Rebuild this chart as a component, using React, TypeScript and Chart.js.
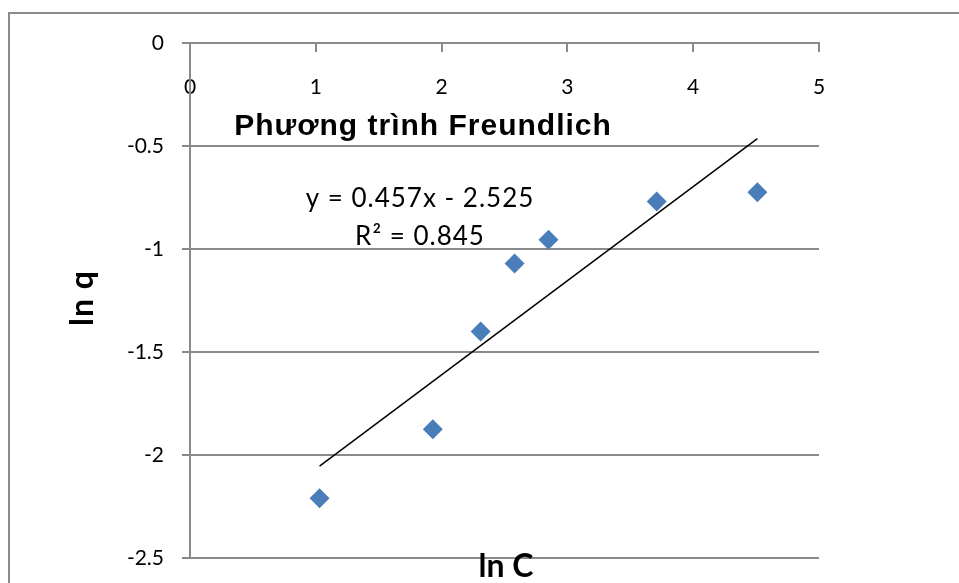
import { useEffect, useRef } from "react";
import { Chart, registerables } from "chart.js";

Chart.register(...registerables);

// ln C (x) and ln q (y) for each adsorption point
const lnC = [1.03, 1.93, 2.31, 2.58, 2.85, 3.71, 4.51];
const lnQ = [-2.21, -1.875, -1.4, -1.07, -0.955, -0.77, -0.725];

// linear fit reported on the chart
const SLOPE = 0.457;
const INTERCEPT = -2.525;
const R2 = 0.845;

const X_RANGE = [0, 5];
const Y_RANGE = [-2.5, 0];
const X_STEP = 1;
const Y_STEP = 0.5;

const TITLE = "Phương trình Freundlich";
const X_TITLE = "ln C";
const Y_TITLE = "ln q";

const GRID = "#8a8a8a";
const MARKER = "#4a7ebb";
const TICK_FONT = { family: "Lato", size: 21 };

const fitLine = () => {
  const x0 = Math.min(...lnC);
  const x1 = Math.max(...lnC);
  return [
    { x: x0, y: SLOPE * x0 + INTERCEPT },
    { x: x1, y: SLOPE * x1 + INTERCEPT },
  ];
};

const annotations = {
  id: "annotations",
  beforeDraw(chart: any) {
    const { ctx } = chart;
    ctx.save();
    ctx.strokeStyle = "#8c8c8c";
    ctx.lineWidth = 2;
    ctx.beginPath();
    ctx.moveTo(9, chart.height);
    ctx.lineTo(9, 13);
    ctx.lineTo(chart.width, 13);
    ctx.stroke();
    ctx.restore();
  },
  afterDraw(chart: any) {
    const { ctx } = chart;
    ctx.save();
    ctx.fillStyle = "#000";
    ctx.textAlign = "center";
    ctx.textBaseline = "alphabetic";

    // chart title
    ctx.font = "bold 30px 'Liberation Sans'";
    (ctx as any).letterSpacing = "1px";
    ctx.fillText(TITLE, 423, 135);

    // trendline equation
    ctx.font = "26px Lato";
    (ctx as any).letterSpacing = "1px";
    const sign = INTERCEPT < 0 ? "-" : "+";
    ctx.fillText(`y = ${SLOPE}x ${sign} ${Math.abs(INTERCEPT)}`, 420, 207);
    ctx.fillText(`R² = ${R2}`, 420, 245);

    // axis titles
    ctx.font = "bold 32px Lato";
    (ctx as any).letterSpacing = "0px";
    ctx.fillText(X_TITLE, 506, 577);
    (ctx as any).letterSpacing = "1px";
    ctx.translate(93, 298);
    ctx.rotate(-Math.PI / 2);
    ctx.fillText(Y_TITLE, 0, 0);
    ctx.restore();
  },
};

export default function App() {
  const ref = useRef<HTMLCanvasElement>(null);

  useEffect(() => {
    if (!ref.current) return;
    const chart = new Chart(ref.current, {
      type: "scatter",
      data: {
        datasets: [
          {
            label: "Linear (ln q)",
            data: fitLine(),
            showLine: true,
            borderColor: "#000",
            borderWidth: 1.5,
            pointRadius: 0,
            fill: false,
          },
          {
            label: "ln q",
            data: lnC.map((x, i) => ({ x, y: lnQ[i] })),
            pointStyle: "rectRot",
            pointRadius: 10,
            pointBorderWidth: 0,
            backgroundColor: MARKER,
            borderColor: MARKER,
          },
        ],
      },
      options: {
        animation: false,
        responsive: false,
        devicePixelRatio: 1,
        layout: { padding: { top: 43, right: 140, bottom: 25, left: 0 } },
        plugins: {
          legend: { display: false },
          tooltip: { enabled: false },
          title: { display: false },
        },
        scales: {
          x: {
            type: "linear",
            position: { y: 0 },
            min: X_RANGE[0],
            max: X_RANGE[1],
            ticks: { stepSize: X_STEP, color: "#000", font: TICK_FONT, padding: 24 },
            grid: { drawOnChartArea: false, drawTicks: true, tickLength: 8, color: GRID, lineWidth: 2 },
            border: { color: GRID, width: 2 },
          },
          y: {
            type: "linear",
            min: Y_RANGE[0],
            max: Y_RANGE[1],
            ticks: {
              stepSize: Y_STEP,
              color: "#000",
              font: TICK_FONT,
              padding: 18,
              callback: (v: any) => String(Math.round(Number(v) * 10) / 10),
            },
            grid: { color: GRID, lineWidth: 2, tickLength: 8 },
            border: { color: GRID, width: 2 },
            afterFit: (scale: any) => {
              scale.width = 190;
              // plot edges are set by the layout padding alone
              scale.paddingTop = 0;
              scale.paddingBottom = 0;
            },
          },
        },
      },
      plugins: [annotations],
    } as any);
    return () => chart.destroy();
  }, []);

  return (
    <div style={{ position: "absolute", left: 0, top: 0, width: 959, height: 583, background: "#fff" }}>
      <canvas ref={ref} width={959} height={583} style={{ display: "block" }} />
    </div>
  );
}
